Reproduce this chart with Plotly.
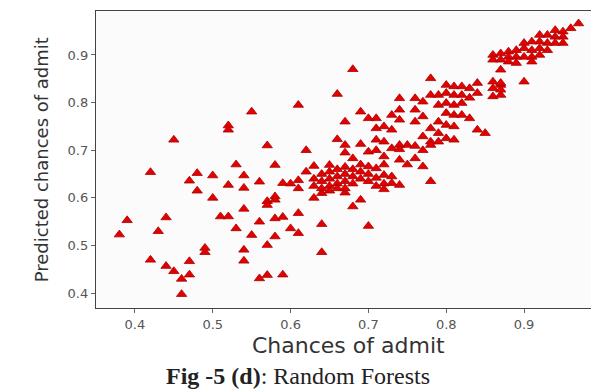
import plotly.graph_objects as go

actual = [
    0.38, 0.39, 0.42, 0.42, 0.43, 0.44, 0.44, 0.45, 0.45, 0.46, 0.46, 0.47, 0.47, 0.47,
    0.48, 0.48, 0.49, 0.49, 0.50, 0.50, 0.51, 0.52, 0.52, 0.52, 0.52, 0.53, 0.53, 0.54,
    0.54, 0.54, 0.54, 0.54, 0.55, 0.55, 0.56, 0.56, 0.56, 0.57, 0.57, 0.57, 0.57, 0.57,
    0.58, 0.58, 0.58, 0.58, 0.58, 0.59, 0.59, 0.59, 0.60, 0.60, 0.61, 0.61, 0.61, 0.61,
    0.61, 0.62, 0.62,
    0.63, 0.63, 0.64, 0.64, 0.64, 0.65, 0.66, 0.66, 0.67, 0.67, 0.67, 0.67, 0.68, 0.68,
    0.68, 0.69, 0.69, 0.69, 0.70, 0.70,
    0.63, 0.63, 0.64, 0.64, 0.64, 0.65, 0.65, 0.65, 0.65, 0.66, 0.66, 0.66, 0.66, 0.67,
    0.67, 0.67, 0.67, 0.68, 0.68, 0.68, 0.69, 0.69, 0.69, 0.70, 0.70, 0.70, 0.70, 0.71,
    0.71, 0.71, 0.72, 0.72, 0.73, 0.73, 0.74, 0.72,
    0.78, 0.74, 0.76, 0.77, 0.78, 0.74, 0.76, 0.73, 0.77, 0.74, 0.76, 0.71, 0.78, 0.71,
    0.72, 0.73, 0.77, 0.71, 0.72, 0.78, 0.74, 0.75, 0.76, 0.73, 0.74, 0.71, 0.77, 0.78,
    0.72, 0.74, 0.76, 0.77, 0.72, 0.78, 0.75,
    0.86, 0.86, 0.87, 0.80, 0.81, 0.82, 0.83, 0.84, 0.86, 0.86, 0.86, 0.87, 0.87, 0.79,
    0.80, 0.81, 0.82, 0.84, 0.79, 0.80, 0.81, 0.82, 0.80, 0.81, 0.82, 0.83, 0.79, 0.80,
    0.81, 0.79, 0.84, 0.85, 0.79, 0.80, 0.81, 0.83, 0.87,
    0.97, 0.96, 0.95, 0.94, 0.95, 0.94, 0.93, 0.92, 0.95, 0.94, 0.93, 0.92, 0.91, 0.90,
    0.93, 0.92, 0.91, 0.90, 0.89, 0.88, 0.87, 0.92, 0.91, 0.90, 0.89, 0.88, 0.91, 0.89,
    0.88, 0.87, 0.90, 0.87,
]
predicted = [
    0.523, 0.553, 0.654, 0.470, 0.530, 0.559, 0.457, 0.722, 0.446, 0.430, 0.398, 0.636, 0.467, 0.439,
    0.652, 0.615, 0.495, 0.486, 0.647, 0.600, 0.561, 0.561, 0.627, 0.752, 0.743, 0.670, 0.536, 0.647,
    0.621, 0.577, 0.491, 0.468, 0.781, 0.522, 0.634, 0.550, 0.431, 0.710, 0.593, 0.585, 0.501, 0.438,
    0.669, 0.603, 0.596, 0.557, 0.519, 0.631, 0.560, 0.439, 0.630, 0.536, 0.795, 0.637, 0.620, 0.568,
    0.526, 0.700, 0.655,
    0.667, 0.600, 0.610, 0.545, 0.486, 0.669, 0.818, 0.723, 0.760, 0.711, 0.695, 0.611, 0.870, 0.683,
    0.582, 0.781, 0.713, 0.596, 0.767, 0.541,
    0.640, 0.625, 0.650, 0.635, 0.620, 0.655, 0.640, 0.625, 0.615, 0.660, 0.645, 0.630, 0.620, 0.665,
    0.650, 0.635, 0.620, 0.660, 0.645, 0.630, 0.670, 0.655, 0.640, 0.697, 0.666, 0.650, 0.635, 0.662,
    0.642, 0.625, 0.648, 0.630, 0.645, 0.631, 0.627, 0.618,
    0.851, 0.809, 0.809, 0.802, 0.816, 0.785, 0.785, 0.774, 0.771, 0.764, 0.760, 0.767, 0.746, 0.746,
    0.750, 0.743, 0.729, 0.722, 0.718, 0.718, 0.711, 0.711, 0.709, 0.704, 0.702, 0.700, 0.700, 0.711,
    0.687, 0.680, 0.683, 0.666, 0.670, 0.635, 0.670,
    0.900, 0.890, 0.869, 0.837, 0.834, 0.834, 0.830, 0.841, 0.844, 0.830, 0.813, 0.837, 0.816, 0.816,
    0.820, 0.816, 0.816, 0.820, 0.795, 0.799, 0.795, 0.799, 0.778, 0.774, 0.774, 0.767, 0.760, 0.753,
    0.750, 0.736, 0.743, 0.736, 0.718, 0.725, 0.722, 0.810, 0.827,
    0.966, 0.956, 0.949, 0.952, 0.938, 0.938, 0.942, 0.942, 0.925, 0.925, 0.925, 0.928, 0.928, 0.925,
    0.910, 0.914, 0.910, 0.914, 0.910, 0.907, 0.903, 0.900, 0.896, 0.896, 0.896, 0.896, 0.886, 0.883,
    0.886, 0.890, 0.844, 0.841,
]

x_ticks = [0.4, 0.5, 0.6, 0.7, 0.8, 0.9]
y_ticks = [0.4, 0.5, 0.6, 0.7, 0.8, 0.9]

fig = go.Figure()
fig.add_trace(go.Scatter(
    x=actual, y=predicted, mode="markers",
    marker=dict(symbol="triangle-up", size=9, color="#e30000",
                line=dict(color="#a80000", width=0.8)),
    showlegend=False,
))

axis_common = dict(
    showgrid=False, zeroline=False, ticks="outside", ticklen=4, tickwidth=1,
    tickcolor="#666", showline=True, linecolor="#444", linewidth=1.3, mirror=True,
    tickfont=dict(family="DejaVu Sans", size=13, color="#555"),
)
fig.update_xaxes(range=[0.35, 0.995], tickvals=x_ticks,
                 ticktext=[f"{v:.1f}" for v in x_ticks], **axis_common)
fig.update_yaxes(range=[0.369, 0.9923], tickvals=y_ticks,
                 ticktext=[f"{v:.1f}" for v in y_ticks], **axis_common)

# page body adds an 8px offset, so the figure is sized to the remaining viewport
fig.update_layout(
    width=591, height=383,
    margin=dict(l=88, r=1, t=3, b=83, autoexpand=False),
    paper_bgcolor="white", plot_bgcolor="#fbfbfb",
    annotations=[
        dict(text="Chances of admit", xref="paper", yref="paper", x=0.502, y=-0.125,
             xanchor="center", yanchor="middle", showarrow=False,
             font=dict(family="DejaVu Sans", size=22, color="#333")),
        dict(text="Predicted chances of admit", xref="paper", yref="paper", x=-0.108, y=0.5,
             xanchor="center", yanchor="middle", textangle=-90, showarrow=False,
             font=dict(family="DejaVu Sans", size=18, color="#333")),
        dict(text="<b>Fig -5 (d)</b>: Random Forests", xref="paper", yref="paper",
             x=0.402, y=-0.228, xanchor="center", yanchor="middle", showarrow=False,
             font=dict(family="Liberation Serif", size=24, color="#222")),
    ],
)

fig.write_html("out.html")
